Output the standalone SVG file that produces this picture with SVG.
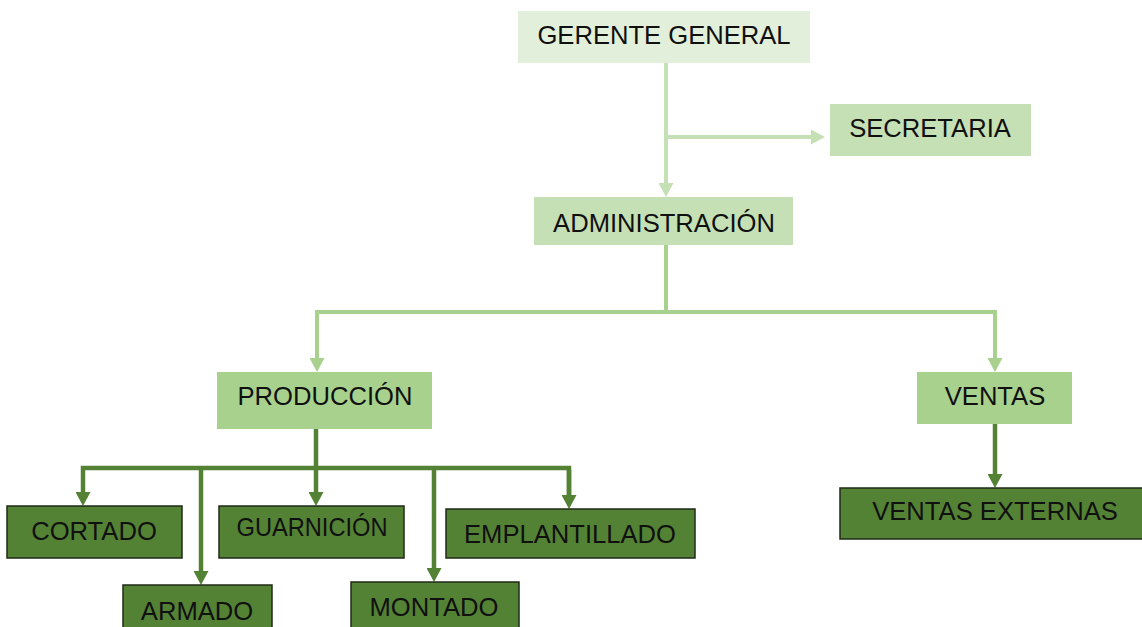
<svg xmlns="http://www.w3.org/2000/svg" width="1142" height="627" viewBox="0 0 1142 627">
<style>
  .t{font-family:"Liberation Sans",Arial,sans-serif;font-size:25.6px;fill:#101010;text-anchor:middle}
  .n0{fill:#e2efda}
  .n1{fill:#c5e0b4}
  .n2{fill:#a9d18e}
  .n3{fill:#548235;stroke:#1f2a17;stroke-width:1.5}
  .c{fill:none;stroke-width:4;stroke-linejoin:miter}
  .cl{stroke:#c5e0b4}
  .cm{stroke:#a9d18e}
  .cd{stroke:#548235;stroke-width:4.5}
</style>
<defs>
  <marker id="al" markerUnits="userSpaceOnUse" markerWidth="15" markerHeight="15" refX="4" refY="7.5" orient="auto"><path d="M0,0 L14,7.5 L0,15 z" fill="#c5e0b4"/></marker>
  <marker id="am" markerUnits="userSpaceOnUse" markerWidth="15" markerHeight="15" refX="4" refY="7.5" orient="auto"><path d="M0,0 L14,7.5 L0,15 z" fill="#a9d18e"/></marker>
  <marker id="ad" markerUnits="userSpaceOnUse" markerWidth="15" markerHeight="15" refX="4" refY="7.5" orient="auto"><path d="M0,0 L14,7.5 L0,15 z" fill="#548235"/></marker>
</defs>
<rect width="1142" height="627" fill="#ffffff"/>
<g id="connectors">
  <path class="c cl" d="M666,63 V187" marker-end="url(#al)"/>
  <path class="c cl" d="M666,137 H815" marker-end="url(#al)"/>
  <path class="c cm" d="M666,245 V312 H995 V362" marker-end="url(#am)"/>
  <path class="c cm" d="M666,312 H317 V362" marker-end="url(#am)"/>
  <path class="c cd" d="M316,429 V468"/>
  <path class="c cd" d="M569,499 V468 H83 V496" marker-end="url(#ad)"/>
  <path class="c cd" d="M569,470 V499" marker-end="url(#ad)"/>
  <path class="c cd" d="M201,468 V575" marker-end="url(#ad)"/>
  <path class="c cd" d="M316,468 V496" marker-end="url(#ad)"/>
  <path class="c cd" d="M434,468 V572" marker-end="url(#ad)"/>
  <path class="c cd" d="M995,424 V478" marker-end="url(#ad)"/>
</g>
<g id="gerente"><rect class="n0" x="518" y="11" width="292" height="52"/><text class="t" x="664" y="44">GERENTE GENERAL</text></g>
<g id="secretaria"><rect class="n1" x="830" y="104" width="201" height="52"/><text class="t" x="930" y="137">SECRETARIA</text></g>
<g id="administracion"><rect class="n1" x="534" y="197" width="259" height="48"/><text class="t" x="664" y="232">ADMINISTRACIÓN</text></g>
<g id="produccion"><rect class="n2" x="217" y="372" width="215" height="57"/><text class="t" x="325" y="405">PRODUCCIÓN</text></g>
<g id="ventas"><rect class="n2" x="917" y="372" width="155" height="52"/><text class="t" x="995" y="405">VENTAS</text></g>
<g id="ventas-externas"><rect class="n3" x="840" y="488" width="310" height="51"/><text class="t" x="995" y="520">VENTAS EXTERNAS</text></g>
<g id="cortado"><rect class="n3" x="7" y="506" width="175" height="52"/><text class="t" x="94" y="540">CORTADO</text></g>
<g id="guarnicion"><rect class="n3" x="219" y="506" width="185" height="52"/><text class="t" x="312" y="536" textLength="151" lengthAdjust="spacingAndGlyphs">GUARNICIÓN</text></g>
<g id="emplantillado"><rect class="n3" x="446" y="509" width="249" height="49"/><text class="t" x="570" y="543">EMPLANTILLADO</text></g>
<g id="armado"><rect class="n3" x="123" y="585" width="149" height="50"/><text class="t" x="197" y="620">ARMADO</text></g>
<g id="montado"><rect class="n3" x="351" y="582" width="168" height="53"/><text class="t" x="434" y="616">MONTADO</text></g>
</svg>
